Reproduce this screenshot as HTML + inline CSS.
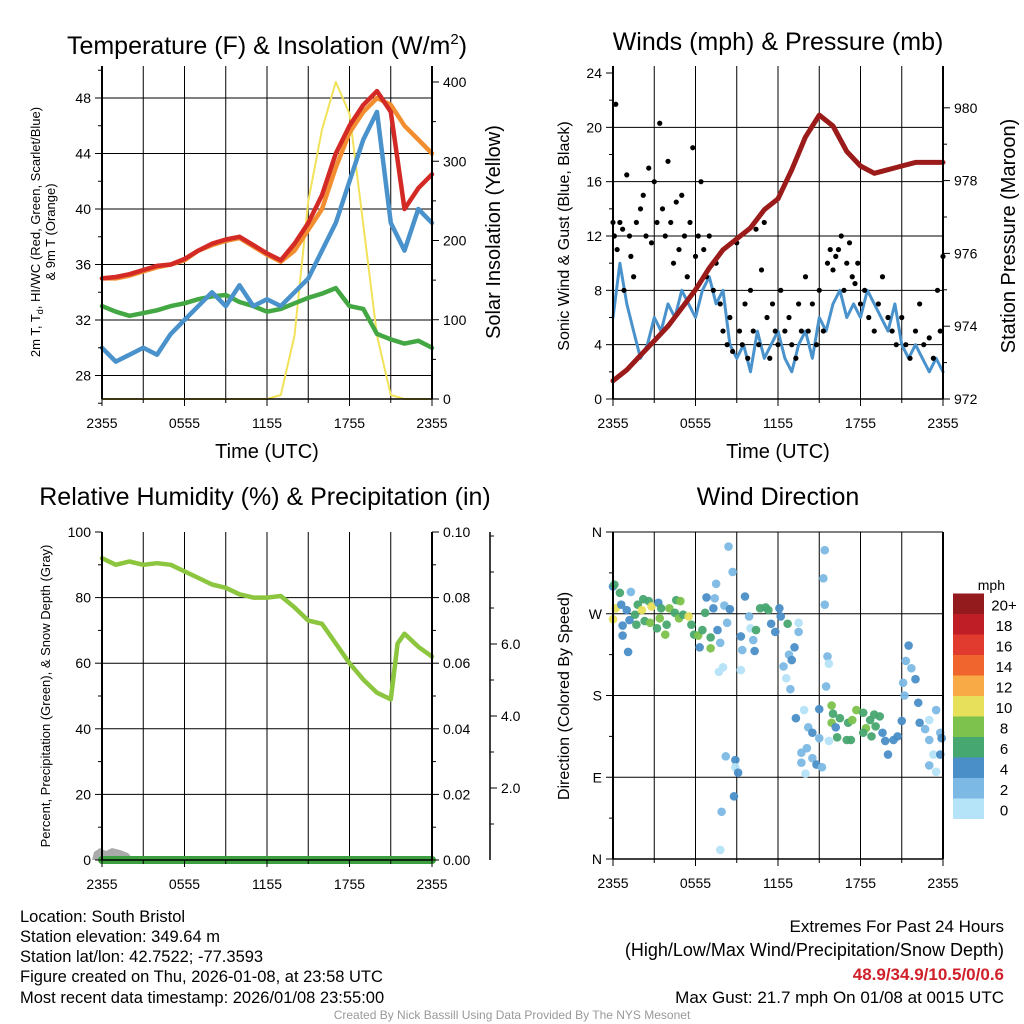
<!DOCTYPE html>
<html><head><meta charset="utf-8"><style>
body{margin:0;background:#fff}
svg{display:block;font-family:"Liberation Sans",Arial,sans-serif}
</style></head><body>
<svg id="c" width="1024" height="1024" viewBox="0 0 1024 1024" xmlns="http://www.w3.org/2000/svg">
<rect width="1024" height="1024" fill="#fff"/>
<g id="g"></g>
<text x="267" y="54" font-size="25" text-anchor="middle">Temperature (F) &amp; Insolation (W/m<tspan font-size="15" dy="-10">2</tspan><tspan dy="10">)</tspan></text>
<text x="778" y="50" font-size="25" text-anchor="middle">Winds (mph) &amp; Pressure (mb)</text>
<text x="265" y="505" font-size="25" text-anchor="middle">Relative Humidity (%) &amp; Precipitation (in)</text>
<text x="778" y="505" font-size="25" text-anchor="middle">Wind Direction</text>
<text x="267" y="458" font-size="20" text-anchor="middle">Time (UTC)</text>
<text x="778" y="458" font-size="20" text-anchor="middle">Time (UTC)</text>
<text transform="translate(40,232) rotate(-90)" font-size="13" text-anchor="middle">2m T, T<tspan font-size="9" dy="3">d</tspan><tspan dy="-3">, HI/WC (Red, Green, Scarlet/Blue)</tspan></text>
<text transform="translate(55,232) rotate(-90)" font-size="13" text-anchor="middle">&amp; 9m T (Orange)</text>
<text transform="translate(500,232) rotate(-90)" font-size="20" text-anchor="middle">Solar Insolation (Yellow)</text>
<text transform="translate(569,236) rotate(-90)" font-size="16" text-anchor="middle">Sonic Wind &amp; Gust (Blue, Black)</text>
<text transform="translate(1015,236) rotate(-90)" font-size="20" text-anchor="middle">Station Pressure (Maroon)</text>
<text transform="translate(50,696) rotate(-90)" font-size="13" text-anchor="middle">Percent, Precipitation (Green), &amp; Snow Depth (Gray)</text>
<text transform="translate(569,696) rotate(-90)" font-size="16" text-anchor="middle">Direction (Colored By Speed)</text>
<text x="1005" y="590" font-size="14" text-anchor="end">mph</text>
<g font-size="16.5">
<text x="20" y="922">Location: South Bristol</text>
<text x="20" y="942">Station elevation: 349.64 m</text>
<text x="20" y="962">Station lat/lon: 42.7522; -77.3593</text>
<text x="20" y="982">Figure created on Thu, 2026-01-08, at 23:58 UTC</text>
<text x="20" y="1003">Most recent data timestamp: 2026/01/08 23:55:00</text>
</g>
<g font-size="17" text-anchor="end">
<text x="1004" y="932">Extremes For Past 24 Hours</text>
<text x="1004" y="956" font-size="18">(High/Low/Max Wind/Precipitation/Snow Depth)</text>
<text x="1004" y="980" fill="#d0202a" font-weight="bold">48.9/34.9/10.5/0/0.6</text>
<text x="1004" y="1003">Max Gust: 21.7 mph On 01/08 at 0015 UTC</text>
</g>
<text x="512" y="1019" font-size="12" fill="#999" text-anchor="middle">Created By Nick Bassill Using Data Provided By The NYS Mesonet</text>
</svg>
<script>
const hours=[0,1,2,3,4,5,6,7,8,9,10,11,12,13,14,15,16,17,18,19,20,21,22,23,24];
const tempRed=[35.0,35.1,35.3,35.6,35.9,36.0,36.4,37.0,37.5,37.8,38.0,37.4,36.8,36.3,37.5,39.0,41.0,44.0,46.0,47.5,48.5,47.0,40.0,41.5,42.5];
const temp9m=[35.0,35.0,35.2,35.5,35.8,36.0,36.3,37.0,37.4,37.7,37.9,37.3,36.7,36.2,37.0,38.5,40.0,43.0,45.5,47.0,48.0,47.5,46.0,45.0,44.0];
const dewGreen=[33.0,32.6,32.3,32.5,32.7,33.0,33.2,33.5,33.7,33.8,33.3,33.0,32.6,32.8,33.2,33.6,33.9,34.3,33.0,32.8,31.0,30.6,30.3,30.5,30.0];
const chillBlue=[30.0,29.0,29.5,30.0,29.5,31.0,32.0,33.0,34.0,33.0,34.5,33.0,33.5,33.0,34.0,35.0,37.0,39.0,42.0,45.0,47.0,39.0,37.0,40.0,39.0];
const solar=[0,0,0,0,0,0,0,0,0,0,0,0,0,5,80,250,340,400,360,220,80,5,0,0,0];
const pressure=[972.5,972.8,973.2,973.6,974.0,974.5,975.0,975.6,976.1,976.4,976.7,977.2,977.5,978.3,979.2,979.8,979.5,978.8,978.4,978.2,978.3,978.4,978.5,978.5,978.5];
const windHalfHour=[6,10,7,5,3,4,6,5,7,6,8,7,6,8,9,7,8,4,3,4,2,5,3,4,5,3,2,4,5,3,6,5,7,8,6,7,6,8,7,6,5,7,4,3,4,3,2,3,2];
const gustHours=[0,0.1,0.2,0.3,0.5,0.7,0.8,1,1.2,1.3,1.5,1.7,2,2.2,2.4,2.6,2.8,3,3.2,3.4,3.6,3.8,4,4.2,4.4,4.6,4.8,5,5.2,5.4,5.6,5.8,6,6.2,6.4,6.6,6.8,7,7.3,7.5,7.8,8,8.3,8.5,8.7,9,9.2,9.4,9.6,9.8,10,10.2,10.4,10.6,10.8,11,11.2,11.4,11.6,11.8,12,12.2,12.5,12.8,13,13.3,13.5,13.7,14,14.2,14.5,14.8,15,15.3,15.6,15.8,16,16.2,16.4,16.6,16.8,17,17.2,17.4,17.6,17.8,18,18.3,18.6,19,19.3,19.6,20,20.3,20.6,21,21.3,21.6,22,22.3,22.6,23,23.3,23.6,23.8,24];
const gustMph=[13,12,21.7,11,13,12.5,8,16.5,12,10.5,9,13,14,15,12,17,11.5,16,13,20.3,14,12,17.5,13,10,14.5,11,15,12,9,13,18.5,10.5,12,16,11,9,12,8,10,7,5,4,6,3.5,11.5,5,4,7,3,8,5,12.5,4,9.5,13,6,3,7,5,4,8,5,6,4,3,7,5,9,5,7,4,8,5,10,11,9.5,10.5,11,12,8,10,11.5,9,8.5,10,7,8,6,5,7,9,6,5,4,6,4,3,5,7,4,4.5,3,8,5,10.5];
const rhHours=[0,1,2,3,4,5,6,7,8,9,10,11,12,13,14,15,16,17,18,19,20,21,21.5,22,23,24];
const rh=[92,90,91,90,90.5,90,88,86,84,83,81,80,80,80.5,77,73,72,66,60,55,51,49,66,69,65,62];
const dirHours=[0,0.1,0.5,1.3,0.2,0,0.6,1.0,0.7,0.7,1.1,1.2,1.6,1.8,1.7,2.1,2.2,2.6,2.3,2.8,2.7,3.2,3.3,3.5,3.4,3.8,3.9,4.1,4.5,4.6,4.9,4.8,5.1,5.5,5.7,5.9,6.2,6.5,6.3,6.7,6.8,7.1,7.1,7.3,7.4,7.5,7.6,7.8,8.1,8.3,8.5,8.4,8.7,7.7,8.0,8.2,8.9,8.9,9.1,8.8,7.9,7.8,9.3,9.4,9.6,9.9,10.0,10.2,10.3,9.3,10.4,10.7,11.1,11.3,11.5,11.8,12.1,12.2,12.7,13.5,13.5,13.2,12.8,13.0,12.4,12.6,12.9,13.3,13.9,14.2,14.5,14.1,13.7,13.7,14.0,14.5,14.8,15.0,15.0,15.2,15.7,15.4,15.3,15.4,15.6,15.7,15.5,15.9,16.0,15.9,16.2,16.5,17.1,17.4,17.7,18.2,18.4,18.7,19.0,19.4,19.1,16.3,17.0,17.3,18.2,18.8,19.6,19.8,20.0,20.4,20.7,21.0,21.5,21.3,21.7,22.0,21.1,21.2,22.2,22.3,22.7,23.0,23.5,23.0,23.3,23.0,23.5,23.8,23.9,23.8];
const dirDegrees=[300,302,293,294,276,264,280,274,257,246,228,263,269,280,258,274,286,284,262,278,260,254,282,276,265,247,258,276,271,285,284,265,269,267,258,247,246,252,233,271,288,232,244,276,287,303,252,238,279,260,275,344,316,206,211,113,109,101,95,69,52,10,245,230,289,267,254,241,229,208,252,276,277,274,259,250,276,267,259,260,250,233,225,219,212,199,187,155,164,145,139,122,117,106,94,111,104,133,165,101,130,340,309,280,223,215,190,169,160,150,145,155,150,153,164,161,144,153,159,157,146,134,131,131,139,135,139,130,115,131,135,152,235,218,210,198,194,180,172,150,143,153,164,131,115,103,96,139,133,115];
const dirSpeed=[4,6,6,2,10,10,4,4,4,4,4,4,6,6,6,10,6,6,6,10,8,6,4,6,8,8,6,8,6,6,8,8,6,10,6,6,8,6,4,6,4,8,6,4,2,2,4,2,2,2,4,2,2,0,0,2,4,0,4,4,2,0,4,2,4,2,0,2,4,0,6,6,6,6,4,4,4,4,6,0,2,4,2,4,2,0,2,4,0,2,4,2,2,2,0,2,4,2,4,2,0,2,2,2,2,0,2,8,6,8,4,6,6,8,8,6,8,6,6,6,6,6,6,6,6,6,4,4,4,4,4,4,4,2,2,4,2,2,4,4,2,0,2,2,0,2,0,2,4,4];
const speedLabels=['0','2','4','6','8','10','12','14','16','18','20+'];
const speedColors=['#b5e3f8','#7cb9e4','#4a8fc7','#47a770','#7cc24c','#e6e05a','#f8aa46','#f0652d','#e13a2e','#c01e27','#931a1d'];
const xTickHours=[0,6,12,18,24];
const xTickLabels=['2355','0555','1155','1755','2355'];

const NS='http://www.w3.org/2000/svg';
const G=document.getElementById('g');
function el(tag,attrs,parent){const e=document.createElementNS(NS,tag);for(const k in attrs)e.setAttribute(k,attrs[k]);(parent||G).appendChild(e);return e;}
function txt(x,y,s,size,anchor,parent){const t=el('text',{x:x,y:y,'font-size':size,'text-anchor':anchor},parent);t.textContent=s;return t;}

function panel(name,L,T,R,B,hGrid){
  const g=el('g',{});
  
  
  for(let h=3;h<24;h+=3){const x=L+h*(R-L)/24;el('line',{x1:x,y1:T,x2:x,y2:B,stroke:'#000','stroke-width':1},g);}
  hGrid.forEach(y=>el('line',{x1:L,y1:y,x2:R,y2:y,stroke:'#000','stroke-width':1},g));
  return g;
}
function frame(name,L,T,R,B){
  const g=el('g',{});
  
  
  el('line',{x1:L,y1:B,x2:R,y2:B,stroke:'#000','stroke-width':1.5},g);
  el('line',{x1:L,y1:T,x2:L,y2:B,stroke:'#000','stroke-width':2},g);
  el('line',{x1:R,y1:T,x2:R,y2:B,stroke:'#000','stroke-width':2},g);
  xTickHours.forEach((h,i)=>{const x=L+h*(R-L)/24;el('line',{x1:x,y1:B,x2:x,y2:B+7,stroke:'#000'},g);txt(x,B+29,xTickLabels[i],14,'middle',g);});
  for(let h=3;h<24;h+=6){const x=L+h*(R-L)/24;el('line',{x1:x,y1:B,x2:x,y2:B+4,stroke:'#000'},g);}
}
function yAxis(name,x,side,ticks,labels,fy,minor){
  const g=el('g',{});
  
  
  const d=side==='left'?-1:1;
  ticks.forEach((v,i)=>{const y=fy(v);el('line',{x1:x,y1:y,x2:x+d*7,y2:y,stroke:'#000'},g);txt(x+d*11,y+5,labels[i],14,side==='left'?'end':'start',g);});
  (minor||[]).forEach(v=>{const y=fy(v);el('line',{x1:x,y1:y,x2:x+d*4,y2:y,stroke:'#000'},g);});
}
function line(xs,ys,fx,fy,color,w,name){
  const p=el('path',{d:xs.map((h,i)=>(i?'L':'M')+fx(h).toFixed(1)+','+fy(ys[i]).toFixed(1)).join(''),fill:'none',stroke:color,'stroke-width':w,'stroke-linejoin':'round','stroke-linecap':'round'});
  
  
  return p;
}

// Panel 1
const x1=h=>102+h*13.75, yT=v=>98+(48-v)*13.875, yS=v=>399-v*0.7925;
panel('temperature',102,66,432,399,[28,32,36,40,44,48].map(yT).concat([yS(0)]));
line(hours,solar,x1,yS,'#f2e25a',2,'solar-insolation-line');
line(hours,dewGreen,x1,yT,'#43a843',4.5,'dewpoint-line');
line(hours,temp9m,x1,yT,'#f28e30',4.5,'temp-9m-line');
line(hours,chillBlue,x1,yT,'#4a92cc',4.5,'wind-chill-line');
line(hours,tempRed,x1,yT,'#d42a26',4.5,'temp-2m-line');
frame('temperature',102,66,432,399);
yAxis('temp-y-axis',102,'left',[28,32,36,40,44,48],['28','32','36','40','44','48'],yT,[26,30,34,38,42,46,50]);
yAxis('solar-y-axis',432,'right',[0,100,200,300,400],['0','100','200','300','400'],yS,[50,150,250,350]);

// Panel 2
const x2=h=>613+h*13.75, yW=v=>399-v*13.583, yP=v=>399-(v-972)*36.4;
panel('winds',613,66,943,399,[4,8,12,16,20].map(yW));
const halfHours=windHalfHour.map((v,i)=>i/2);
line(halfHours,windHalfHour,x2,yW,'#4a92cc',3,'sonic-wind-line');
gustHours.forEach((h,i)=>{const c=el('circle',{cx:x2(h),cy:yW(gustMph[i]),r:2.6,fill:'#000'});

});
line(hours,pressure,x2,yP,'#9b1a1a',5,'pressure-line');
frame('winds',613,66,943,399);
yAxis('wind-y-axis',613,'left',[0,4,8,12,16,20,24],['0','4','8','12','16','20','24'],yW,[2,6,10,14,18,22]);
yAxis('pressure-y-axis',943,'right',[972,974,976,978,980],['972','974','976','978','980'],yP,[973,975,977,979]);

// Panel 3
const x3=h=>102+h*13.75, yR=v=>860-v*3.28, yPr=v=>860-v*3280, ySn=v=>860-v*36;
panel('humidity',102,532,432,860,[20,40,60,80].map(yR));
const snow=el('path',{d:'M92,860 L94,852 L100,848 L106,851 L112,848 L120,850 L128,853 L134,860 Z',fill:'#aaa'});


line([0,24],[0,0],x3,yPr,'#3da040',8,'precipitation-line');
line(rhHours,rh,x3,yR,'#8cc63f',4.5,'relative-humidity-line');
frame('humidity',102,532,432,860);
yAxis('rh-y-axis',102,'left',[0,20,40,60,80,100],['0','20','40','60','80','100'],yR,[10,30,50,70,90]);
yAxis('precip-y-axis',432,'right',[0,0.02,0.04,0.06,0.08,0.10],['0.00','0.02','0.04','0.06','0.08','0.10'],yPr,[0.01,0.03,0.05,0.07,0.09]);
el('line',{x1:490,y1:532,x2:490,y2:860,stroke:'#000','stroke-width':1.5});
yAxis('snow-y-axis',490,'right',[2,4,6],['2.0','4.0','6.0'],ySn,[1,3,5,7,8,9]);

// Panel 4
const x4=h=>613+h*13.75, yD=d=>859-d*327/360;
panel('wind-direction',613,532,943,859,[90,180,270,360].map(yD));
dirHours.forEach((h,i)=>{const c=el('circle',{cx:x4(h),cy:yD(dirDegrees[i]),r:4.3,fill:speedColors[Math.min(10,Math.floor(dirSpeed[i]/2))],'fill-opacity':0.95});

});
frame('wind-direction',613,532,943,859);
yAxis('direction-y-axis',613,'left',[0,90,180,270,360],['N','E','S','W','N'],yD,[45,135,225,315]);
// colorbar
speedColors.forEach((c,i)=>{const y=819-(i+1)*20.5;const r=el('rect',{x:953,y:y,width:31,height:20.5,fill:c});


txt(1004,y+17,speedLabels[i],15,'middle');});
</script>
</body></html>
